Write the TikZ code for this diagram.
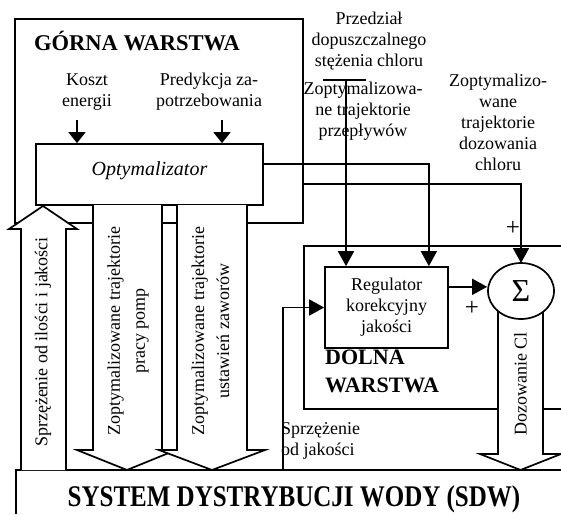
\documentclass[tikz,border=0pt]{standalone}
\usepackage{fontspec}
\usepackage{graphicx}
\setmainfont{Liberation Serif}
\usetikzlibrary{arrows.meta,calc,shapes.geometric}
\tikzset{
  txt/.style={font=\fontsize{18}{21}\selectfont, align=center, inner sep=0pt},
  rtxt/.style={font=\fontsize{18}{25}\selectfont, align=center, inner sep=0pt, rotate=90},
  ln/.style={line width=1.7pt},
  box/.style={draw, ln, inner sep=0pt},
  arr/.style={ln, -{Triangle[length=15pt,width=16pt]}},
  sarr/.style={ln, -{Triangle[length=11pt,width=17pt]}},
  fat/.style={draw, fill=white, ln, line join=miter},
  btitle/.style={inner sep=0pt, font=\fontsize{22.5}{28}\selectfont\bfseries},
  plus/.style={inner sep=0pt, font=\fontsize{25}{25}\selectfont},
}
\begin{document}
\begin{tikzpicture}[x=1pt,y=-1pt]
\useasboundingbox (0,0) rectangle (561,514);
% frames
\node[box, minimum width=288pt, minimum height=204pt] (gorna) at (159,121) {};
\draw[ln] (561,246) -- (304,246) -- (304,409) -- (561,409);
\draw[ln] (561,470) -- (16,470) -- (16,514);
% texts upper layer
\node[btitle, anchor=base west] (gtitle) at (34,50) {GÓRNA WARSTWA};
\node[txt] (koszt) at (87,92) {Koszt\\energii};
\node[txt] (pred) at (209,92) {Predykcja za-\\potrzebowania};
\node[txt] (przed) at (369,41) {Przedział\\dopuszczalnego\\stężenia chloru};
\node[txt] (przep) at (363,111) {Zoptymalizowa-\\ne trajektorie\\przepływów};
\node[txt] (dozt) at (498,122) {Zoptymalizo-\\wane\\trajektorie\\dozowania\\chloru};
% optimizer and regulator
\node[box, minimum width=227pt, minimum height=61pt] (opt) at (149.5,174.5) {};
\node[anchor=base, inner sep=0pt, font=\fontsize{20}{24}\selectfont\itshape] (optlbl) at (149.5,175) {Optymalizator};
\node[box, txt, minimum width=123pt, minimum height=81pt] (reg) at (386.5,307.5) {Regulator\\korekcyjny\\jakości};
% input arrows to optimizer
\coordinate (k1) at (77,120);
\coordinate (p1) at (222,120);
\draw[sarr] (k1) -- (k1 |- opt.north);
\draw[sarr] (p1) -- (p1 |- opt.north);
% connectors
\coordinate (o1) at ($(opt.north east)!0.33!(opt.south east)$);
\draw[arr] (o1) -| ([xshift=-20pt]reg.north east);
\draw[arr] (gorna.east |- 0,184) -| (521,263);
\coordinate (pz) at (346,80);
\draw[ln] ([xshift=-23pt]pz) -- ([xshift=20pt]pz);
\draw[arr] (pz) -- (pz |- reg.north);
\coordinate (fq) at (283,470);
\draw[arr] (fq) |- (reg.west);
% fat arrows
\draw[fat] (21,470) -- (21,229) -- (9,229) -- (43,206) -- (77,229) -- (66,229) -- (66,470);
\draw[fat] (93,205) -- (93,450) -- (77,450) -- (127,470) -- (176,450) -- (162,450) -- (162,205);
\draw[fat] (177,205) -- (177,450) -- (159,450) -- (212,470) -- (265,450) -- (247,450) -- (247,205);
\draw[fat] (498,300) -- (498,454) -- (480,454) -- (520.5,470) -- (561,454) -- (543,454) -- (543,300);
\node[draw, ln, ellipse, fill=white, minimum width=66pt, minimum height=56pt, inner sep=0pt] (sigma) at (521,291) {\fontsize{32}{32}\selectfont Σ};
\coordinate (re) at ($(reg.north east)!0.25!(reg.south east)$);
\draw[arr] (re) -- (re -| sigma.west);
% labels
\node[plus] (plus1) at (513,228) {+};
\node[plus] (plus2) at (472,308) {+};
\node[btitle, anchor=north west, align=left, font=\fontsize{22}{28}\selectfont\bfseries] (dtitle) at (325,350) {DOLNA\\WARSTWA};
\node[txt, align=left, anchor=west] (sjak) at (281,441) {Sprzężenie\\od jakości};
\node[txt, rotate=90] (fbl) at (43,342) {Sprzężenie od ilości i jakości};
\node[rtxt] (a2l) at (128,331) {Zoptymalizowane trajektorie\\pracy pomp};
\node[rtxt] (a3l) at (210.5,331) {Zoptymalizowane trajektorie\\ustawień zaworów};
\node[txt, rotate=90] (dcl) at (520.5,384) {Dozowanie Cl};
\node[anchor=base, inner sep=0pt, font=\fontsize{25}{30}\selectfont\bfseries] (sdw) at (294,506) {\scalebox{1}[1.2]{SYSTEM DYSTRYBUCJI WODY (SDW)}};
\end{tikzpicture}
\end{document}
